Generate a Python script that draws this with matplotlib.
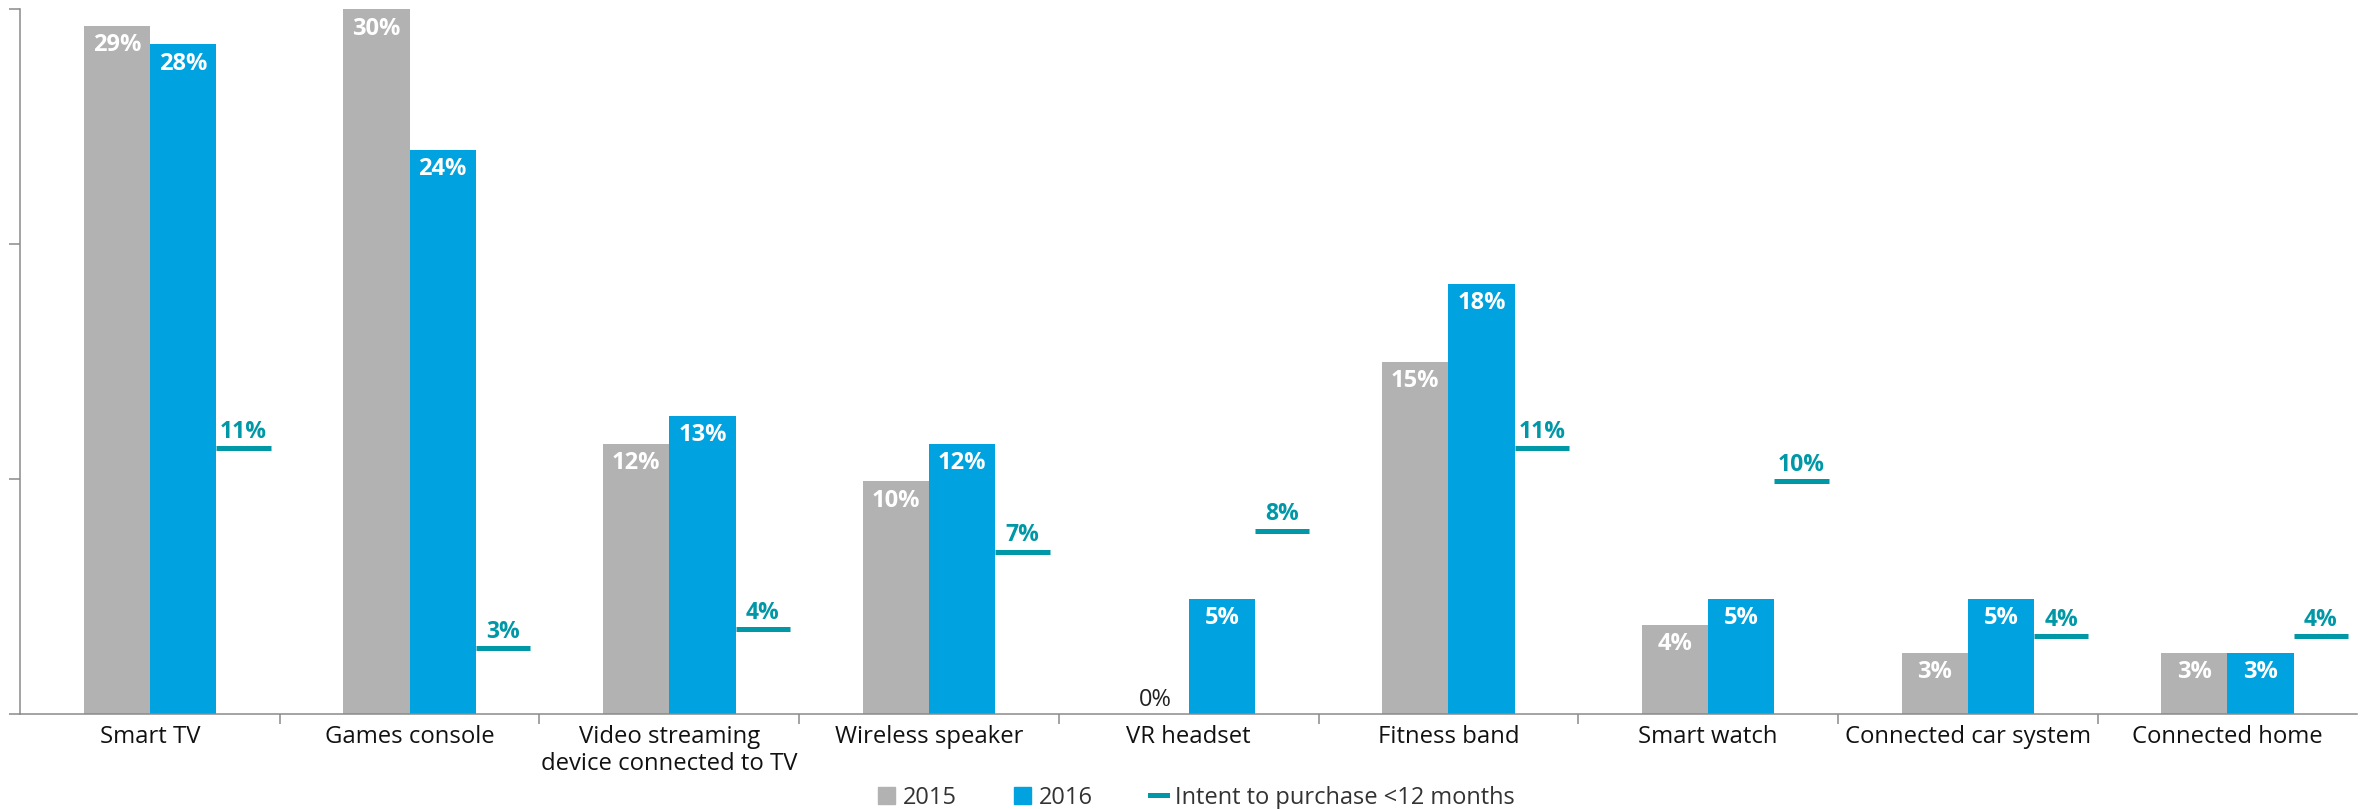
import numpy as np
import matplotlib
matplotlib.use("Agg")
import matplotlib.pyplot as plt
from matplotlib.patches import Patch
from matplotlib.lines import Line2D

plt.rcParams['font.family'] = ['Open Sans', 'DejaVu Sans']

categories = ["Smart TV", "Games console", "Video streaming\ndevice connected to TV",
              "Wireless speaker", "VR headset", "Fitness band", "Smart watch",
              "Connected car system", "Connected home"]
# bar heights (percent)
v2015 = [29.3, 30.0, 11.5, 9.9, 0.0, 15.0, 3.8, 2.6, 2.6]
v2016 = [28.5, 24.0, 12.7, 11.5, 4.9, 18.3, 4.9, 4.9, 2.6]
intent = [11.3, 2.8, 3.6, 6.9, 7.8, 11.3, 9.9, 3.3, 3.3]
# printed labels
lab2015 = [29, 30, 12, 10, 0, 15, 4, 3, 3]
lab2016 = [28, 24, 13, 12, 5, 18, 5, 5, 3]
lab_intent = [11, 3, 4, 7, 8, 11, 10, 4, 4]

GREY = "#B2B2B2"
BLUE = "#00A3E0"
TEAL = "#0097A7"
AXIS = "#8A8A8A"

fig = plt.figure(figsize=(23.62, 8.09), dpi=100)
ax = fig.add_axes([0.0085, 0.1174, 0.9895, 0.8714])

x = np.arange(len(categories))
w = 0.255
ax.bar(x - w / 2, v2015, width=w, color=GREY)
ax.bar(x + w / 2, v2016, width=w, color=BLUE)
ax.hlines(intent, x + w, x + w + 0.21, color=TEAL, lw=3.6)

fs_val = 17
for i in range(len(categories)):
    if v2015[i] > 0:
        ax.annotate(f"{lab2015[i]}%", (x[i] - w / 2, v2015[i]), xytext=(0, -14),
                    textcoords="offset points", ha="center", va="center",
                    color="white", fontsize=fs_val, fontweight="bold")
    else:
        ax.annotate(f"{lab2015[i]}%", (x[i] - w / 2, 0), xytext=(0, 10),
                    textcoords="offset points", ha="center", va="center",
                    color="#222222", fontsize=fs_val)
    ax.annotate(f"{lab2016[i]}%", (x[i] + w / 2, v2016[i]), xytext=(0, -14),
                textcoords="offset points", ha="center", va="center",
                color="white", fontsize=fs_val, fontweight="bold")
    ax.annotate(f"{lab_intent[i]}%", (x[i] + w + 0.105, intent[i]), xytext=(0, 12),
                textcoords="offset points", ha="center", va="center",
                color=TEAL, fontsize=16.5, fontweight="bold")

ax.set_xlim(-0.5, 8.5)
ax.set_ylim(0, 30)
ax.set_yticks([0, 10, 20, 30])
ax.set_yticklabels([])
ax.tick_params(axis="y", length=8, width=1.1, color=AXIS, direction="out")

ax.set_xticks(x)
ax.set_xticklabels(categories, fontsize=17.2, color="#111111", linespacing=1.15)
ax.tick_params(axis="x", which="major", length=0, pad=8)
ax.set_xticks(np.arange(0.5, 8.5, 1.0), minor=True)
ax.tick_params(axis="x", which="minor", length=7.5, width=1.1, color=AXIS, direction="out")

for s in ["top", "right"]:
    ax.spines[s].set_visible(False)
for s in ["left", "bottom"]:
    ax.spines[s].set_color(AXIS)
    ax.spines[s].set_linewidth(1.1)

handles = [Patch(color=GREY, label="2015"),
           Patch(color=BLUE, label="2016"),
           Line2D([0], [0], color=TEAL, lw=3.6, label="Intent to purchase <12 months")]
fig.legend(handles=handles, loc="center left", bbox_to_anchor=(0.3717, 0.014),
           borderpad=0, borderaxespad=0,
           ncol=3, frameon=False, fontsize=17, handlelength=0.72, handleheight=0.7,
           handletextpad=0.35, columnspacing=2.4, labelcolor="#333333")

fig.savefig("out.png", dpi=100)
